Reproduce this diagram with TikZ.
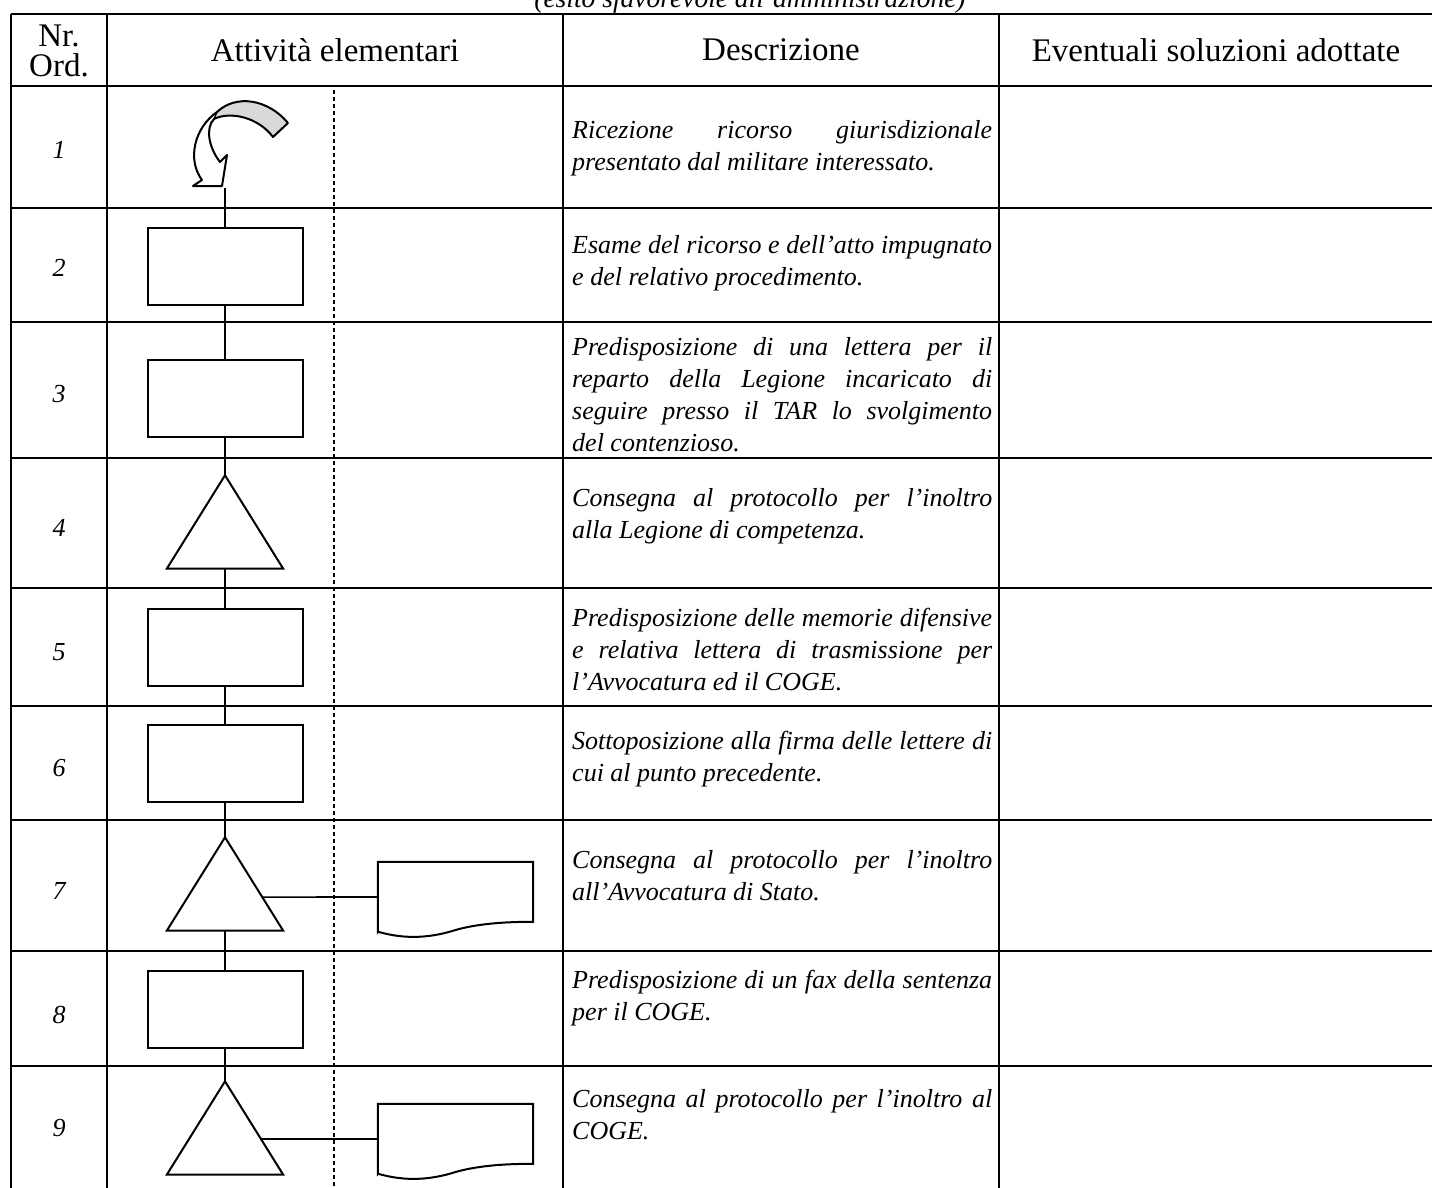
\documentclass[tikz,border=0pt]{standalone}
\usepackage{fontspec}
\setmainfont{Liberation Serif}
\usetikzlibrary{calc}
\newcommand\mydescfont{\fontsize{26}{32}\selectfont\itshape}
\newcommand\myheadfont{\fontsize{33}{30}\selectfont}
\newcommand\mynumfont{\fontsize{26}{30}\selectfont\itshape}
\newcommand\mytitlefont{\fontsize{27.5}{30}\selectfont\itshape}
\newcommand\jl[1]{\leavevmode\hbox to 420pt{\spaceskip=.25em plus 1fil minus .05em\relax #1}}
\newcommand\lastl[1]{\leavevmode\hbox{\spaceskip=.25em plus .1em minus .05em\relax #1}}
\begin{document}
\begin{tikzpicture}[x=1pt,y=-1pt,
  tbl/.style={line width=1.6pt},
  conn/.style={line width=1.6pt},
  shp/.style={draw, line width=2pt, line join=miter},
  box/.style={shp, minimum width=155pt, minimum height=77pt, inner sep=0pt},
  trianchor/.style={minimum width=116pt, minimum height=93pt, inner sep=0pt},
  docanchor/.style={minimum width=155pt, minimum height=70pt, inner sep=0pt},
  desc/.style={anchor=north west, inner sep=0pt, text width=420pt, align=left, font=\mydescfont},
  num/.style={font=\mynumfont, inner sep=0pt},
  head/.style={font=\myheadfont, align=center, inner sep=0pt},
  dashline/.style={line width=1.3pt, dash pattern=on 4pt off 3pt}]
\useasboundingbox (0,0) rectangle (1432,1188);
\fill[white] (0,0) rectangle (1432,1188);

% title (cut at the top, as in the scanned page)
\begin{scope}
\clip (0,0) rectangle (1432,20);
\node[anchor=base, font=\mytitlefont, inner sep=0pt] (title) at (750,8) {(esito sfavorevole all'amministrazione)};
\end{scope}

% table grid
\foreach \yy in {14,86,208,322,458,588,706,820,951,1066}
  \draw[tbl] (11,\yy) -- (1432,\yy);
\foreach \xx in {11,107,563,999}
  \draw[tbl] (\xx,14) -- (\xx,1188);

% header
\node[head] (h1) at (59,51) {Nr.\\Ord.};
\node[head] (h2) at (335,50) {Attività elementari};
\node[head] (h3) at (781,50) {Descrizione};
\node[head] (h4) at (1216,50) {Eventuali soluzioni adottate};

% row numbers
\node[num] (n1) at (59,150) {1};
\node[num] (n2) at (59,268) {2};
\node[num] (n3) at (59,394) {3};
\node[num] (n4) at (59,528) {4};
\node[num] (n5) at (59,652) {5};
\node[num] (n6) at (59,768) {6};
\node[num] (n7) at (59,891) {7};
\node[num] (n8) at (59,1015) {8};
\node[num] (n9) at (59,1128) {9};

% descriptions
\node[desc] (d1) at (572,115.6) {\noindent\strut\jl{Ricezione ricorso giurisdizionale}\\\lastl{presentato dal militare interessato.}};
\node[desc] (d2) at (572,230.6) {\noindent\strut\jl{Esame del ricorso e dell'atto impugnato}\\\lastl{e del relativo procedimento.}};
\node[desc] (d3) at (572,332.6) {\noindent\strut\jl{Predisposizione di una lettera per il}\\\jl{reparto della Legione incaricato di}\\\jl{seguire presso il TAR lo svolgimento}\\\lastl{del contenzioso.}};
\node[desc] (d4) at (572,483.6) {\noindent\strut\jl{Consegna al protocollo per l'inoltro}\\\lastl{alla Legione di competenza.}};
\node[desc] (d5) at (572,603.6) {\noindent\strut\jl{Predisposizione delle memorie difensive}\\\jl{e relativa lettera di trasmissione per}\\\lastl{l'Avvocatura ed il COGE.}};
\node[desc] (d6) at (572,726.6) {\noindent\strut\jl{Sottoposizione alla firma delle lettere di}\\\lastl{cui al punto precedente.}};
\node[desc] (d7t) at (572,845.6) {\noindent\strut\jl{Consegna al protocollo per l'inoltro}\\\lastl{all'Avvocatura di Stato.}};
\node[desc] (d8) at (572,965.6) {\noindent\strut\jl{Predisposizione di un fax della sentenza}\\\lastl{per il COGE.}};
\node[desc] (d9t) at (572,1084.6) {\noindent\strut\jl{Consegna al protocollo per l'inoltro al}\\\lastl{COGE.}};

% dashed guide line
\draw[dashline] (334,90) -- (334,1188);

% start: curved arrow
\fill[gray!30] (288,123) .. controls (268,99) and (236,94) .. (217,112) -- (214,119) .. controls (230,111) and (258,117) .. (273,137) -- cycle;
\draw[line width=2pt, line join=round] (288,123) .. controls (268,99) and (236,94) .. (217,112)
   .. controls (194,128) and (187,160) .. (202,180) -- (193,186) -- (222,186) -- (227,155) -- (220,162)
   .. controls (209,148) and (205,128) .. (214,119)
   .. controls (230,111) and (258,117) .. (273,137) -- cycle;
\draw[line width=1.4pt] (217,112) -- (214,119);
\coordinate (arr) at (225,188);

% flow shapes
\node[box] (b2) at (225,266) {};
\node[box] (b3) at (225,398) {};
\node[trianchor] (t4) at (225,522) {};
\node[box] (b5) at (225,647) {};
\node[box] (b6) at (225,763) {};
\node[trianchor] (t7) at (225,884) {};
\node[box] (b8) at (225,1009) {};
\node[trianchor] (t9) at (225,1128) {};
\foreach \t in {t4,t7,t9}
  \draw[shp] (\t.north) -- (\t.south east) -- (\t.south west) -- cycle;

% documents
\node[docanchor] (d7) at (455.5,897) {};
\node[docanchor] (d9) at (455.5,1139) {};
\foreach \d in {d7,d9}
  \draw[shp] (\d.south west) -- (\d.north west) -- (\d.north east) -- ++(0,60)
     .. controls +(-22,0) and +(25,-7) .. ++(-77,8)
     .. controls +(-25,8) and +(28,8) .. ++(-78,2) -- cycle;

% connectors
\draw[conn] (arr) -- (b2.north);
\draw[conn] (b2.south) -- (b3.north);
\draw[conn] (b3.south) -- (t4.north);
\draw[conn] (t4.south) -- (b5.north);
\draw[conn] (b5.south) -- (b6.north);
\draw[conn] (b6.south) -- (t7.north);
\draw[conn] (t7.south) -- (b8.north);
\draw[conn] (b8.south) -- (t9.north);
\draw[conn] ($(t7.north)!0.64!(t7.south east)$) -- (d7.west);
\draw[conn] ($(t9.north)!0.618!(t9.south east)$) -- (d9.west);
\end{tikzpicture}
\end{document}
